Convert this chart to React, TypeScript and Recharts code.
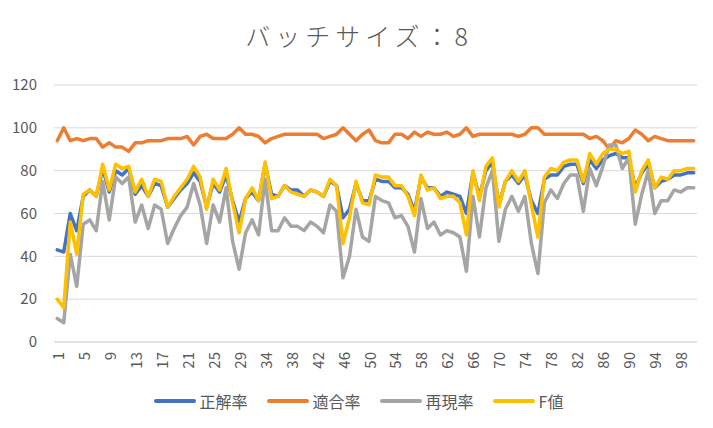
import React from 'react';
import { CartesianGrid, Line, LineChart, XAxis, YAxis } from 'recharts';

// epoch numbers (30 is not in the run)
const epochs = [
  1, 2, 3, 4, 5, 6, 7, 8, 9, 10, 11, 12, 13, 14, 15, 16, 17, 18, 19, 20,
  21, 22, 23, 24, 25, 26, 27, 28, 29, 31, 32, 33, 34, 35, 36, 37, 38, 39, 40, 41,
  42, 43, 44, 45, 46, 47, 48, 49, 50, 51, 52, 53, 54, 55, 56, 57, 58, 59, 60, 61,
  62, 63, 64, 65, 66, 67, 68, 69, 70, 71, 72, 73, 74, 75, 76, 77, 78, 79, 80, 81,
  82, 83, 84, 85, 86, 87, 88, 89, 90, 91, 92, 93, 94, 95, 96, 97, 98, 99, 100,
];

const accuracy = [
  43, 42, 60, 52, 68, 71, 68, 81, 70, 80,
  78, 81, 69, 73, 68, 74, 73, 63, 67, 71,
  74, 79, 75, 63, 74, 70, 78, 66, 56, 67,
  70, 66, 83, 69, 68, 73, 71, 71, 68, 71,
  70, 68, 75, 73, 58, 62, 74, 66, 66, 76,
  75, 75, 72, 72, 69, 61, 77, 72, 72, 68,
  70, 69, 68, 60, 79, 68, 80, 84, 64, 75,
  78, 74, 78, 66, 60, 76, 78, 78, 82, 83,
  83, 74, 85, 81, 85, 87, 88, 86, 86, 72,
  79, 83, 72, 75, 76, 78, 78, 79, 79,
];

const precision = [
  94, 100, 94, 95, 94, 95, 95, 91, 93, 91,
  91, 89, 93, 93, 94, 94, 94, 95, 95, 95,
  96, 92, 96, 97, 95, 95, 95, 97, 100, 97,
  97, 96, 93, 95, 96, 97, 97, 97, 97, 97,
  97, 95, 96, 97, 100, 97, 94, 97, 99, 94,
  93, 93, 97, 97, 95, 98, 96, 98, 97, 97,
  98, 96, 97, 100, 96, 97, 97, 97, 97, 97,
  97, 96, 97, 100, 100, 97, 97, 97, 97, 97,
  97, 97, 95, 96, 94, 90, 94, 93, 95, 99,
  97, 94, 96, 95, 94, 94, 94, 94, 94,
];

const recall = [
  11, 9, 41, 26, 55, 57, 52, 75, 57, 77,
  74, 77, 56, 64, 53, 64, 62, 46, 53, 59,
  63, 74, 64, 46, 64, 56, 72, 47, 34, 51,
  57, 50, 76, 52, 52, 58, 54, 54, 52, 56,
  54, 51, 64, 61, 30, 40, 62, 49, 47, 68,
  66, 65, 58, 59, 54, 42, 67, 53, 56, 50,
  52, 51, 49, 33, 68, 49, 72, 80, 47, 62,
  68, 61, 68, 46, 32, 65, 71, 67, 74, 78,
  78, 61, 81, 73, 82, 92, 92, 81, 86, 55,
  69, 80, 60, 66, 66, 71, 70, 72, 72,
];

const fScore = [
  20, 16, 56, 41, 69, 71, 68, 83, 71, 83,
  81, 82, 70, 76, 68, 76, 75, 63, 68, 72,
  76, 82, 77, 62, 76, 71, 81, 65, 51, 67,
  72, 66, 84, 67, 68, 73, 70, 69, 68, 71,
  70, 68, 76, 73, 46, 58, 75, 65, 64, 78,
  77, 77, 73, 73, 68, 59, 78, 71, 72, 67,
  68, 68, 65, 50, 80, 66, 82, 86, 63, 75,
  80, 75, 80, 64, 49, 77, 81, 80, 84, 85,
  85, 75, 88, 83, 88, 90, 90, 88, 89, 70,
  80, 85, 72, 77, 76, 80, 80, 81, 81,
];

const yTicks = [0, 20, 40, 60, 80, 100, 120];

const series = [
  { key: 'accuracy', name: '正解率', color: '#4472C4' },
  { key: 'precision', name: '適合率', color: '#ED7D31' },
  { key: 'recall', name: '再現率', color: '#A5A5A5' },
  { key: 'fScore', name: 'F値', color: '#FFC000' },
];

const data = epochs.map((e, i) => ({
  epoch: String(e),
  accuracy: accuracy[i],
  precision: precision[i],
  recall: recall[i],
  fScore: fScore[i],
}));

const FONT = '"Noto Sans CJK JP", "Noto Sans", sans-serif';
const TEXT = '#595959';

const RotatedTick = (props: any) => {
  const { x, y, payload } = props;
  return (
    <text
      x={x}
      y={y}
      transform={`rotate(-90, ${x}, ${y})`}
      textAnchor='end'
      dominantBaseline='central'
      fill={TEXT}
      fontSize={15}
      fontFamily={FONT}
    >
      {payload.value}
    </text>
  );
};

const App = () => {
  return (
    <div
      style={{
        position: 'absolute',
        left: 0,
        top: 0,
        width: 713,
        height: 428,
        background: '#fff',
        fontFamily: FONT,
      }}
    >
      <div
        style={{
          position: 'absolute',
          top: 17,
          left: 0,
          width: 713,
          textAlign: 'center',
          fontSize: 25,
          fontWeight: 300,
          letterSpacing: 5,
          paddingLeft: 5,
          boxSizing: 'border-box',
          color: TEXT,
          lineHeight: '36px',
        }}
      >
        バッチサイズ：8
      </div>
      <LineChart
        width={713}
        height={428}
        data={data}
        margin={{ top: 85, right: 16, bottom: 0, left: 0 }}
      >
        <CartesianGrid vertical={false} stroke='#D9D9D9' />
        <XAxis
          dataKey='epoch'
          interval={3}
          height={86}
          padding={{ left: 3.25, right: 3.25 }}
          axisLine={{ stroke: '#D9D9D9' }}
          tickLine={false}
          tickSize={0}
          tickMargin={10}
          tick={<RotatedTick />}
        />
        <YAxis
          width={54}
          domain={[0, 120]}
          ticks={yTicks}
          axisLine={false}
          tickLine={false}
          tickSize={0}
          tickMargin={17}
          tick={{ fill: TEXT, fontSize: 15, fontFamily: FONT }}
        />
        {series.map((s) => (
          <Line
            key={s.key}
            type='linear'
            dataKey={s.key}
            name={s.name}
            stroke={s.color}
            strokeWidth={3.5}
            strokeLinejoin='round'
            strokeLinecap='round'
            dot={false}
            activeDot={false}
            isAnimationActive={false}
          />
        ))}
      </LineChart>
      <div
        style={{
          position: 'absolute',
          top: 389,
          left: 0,
          width: 713,
          display: 'flex',
          justifyContent: 'center',
          gap: 19,
          paddingLeft: 4,
          boxSizing: 'border-box',
        }}
      >
        {series.map((s) => (
          <div key={s.key} style={{ display: 'flex', alignItems: 'center' }}>
            <div
              style={{
                width: 42,
                height: 4,
                borderRadius: 2,
                background: s.color,
                marginRight: 4,
              }}
            />
            <span style={{ fontSize: 16, color: TEXT, lineHeight: '24px' }}>{s.name}</span>
          </div>
        ))}
      </div>
    </div>
  );
};

export default App;
